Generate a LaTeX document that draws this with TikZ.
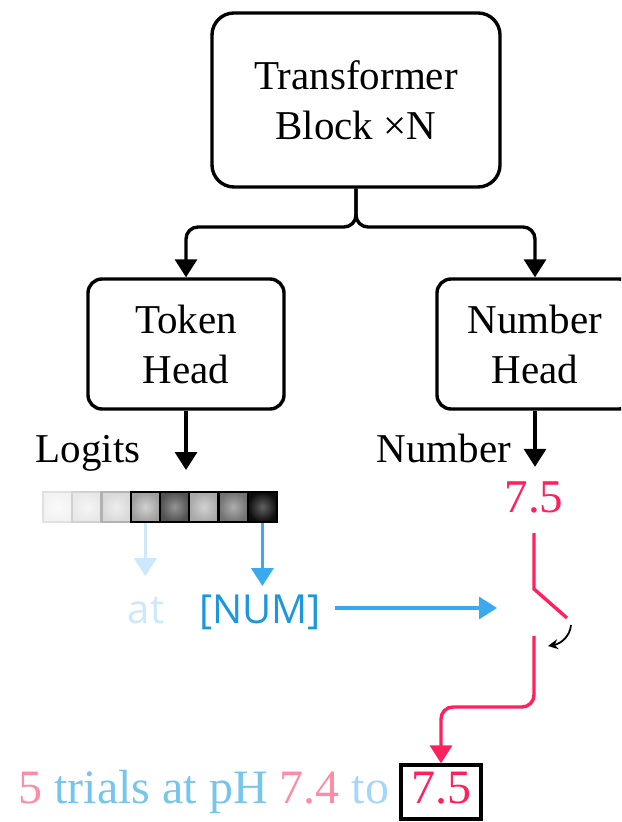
\documentclass[tikz,border=0pt]{standalone}
\usepackage{fontspec}
\setmainfont{Liberation Serif}
\newfontfamily\tokfont{Open Sans}
\usetikzlibrary{arrows.meta,positioning}

\definecolor{numred}{RGB}{255,32,92}
\definecolor{numpink}{RGB}{255,140,165}
\definecolor{txtblue}{RGB}{118,198,236}
\definecolor{toblue}{RGB}{165,214,250}
\definecolor{atblue}{RGB}{205,232,250}
\definecolor{tokblue}{RGB}{28,150,222}
\definecolor{arrblue}{RGB}{58,170,240}

\begin{document}
\begin{tikzpicture}[x=0.5pt,y=-0.5pt,
  box/.style={draw, line width=1.7pt, align=center,
    font=\fontsize{20.5}{25}\selectfont},
  arr/.style={line width=1.7pt, -{Triangle[length=9pt,width=11pt]}},
  lbl/.style={inner sep=0pt, font=\fontsize{20.5}{25}\selectfont},
  cell/.style={minimum width=14.6pt, minimum height=15pt, inner sep=0pt, line width=1.1pt}]

  \clip (0,0) rectangle (621,822);

  % Transformer und Heads
  \node[box, rounded corners=11pt, minimum width=144pt, minimum height=87pt] (tf) at (356,100) {Transformer\\Block ×N};
  \node[box, rounded corners=7pt, minimum width=98pt, minimum height=65pt] (tok) at (186,344) {Token\\Head};
  \node[box, rounded corners=7pt, minimum width=98pt, minimum height=65pt] (num) at (535,344) {Number\\Head};

  % Verzweigung
  \draw[arr, rounded corners=6pt] (tf.south) -- (356,227) -- (186,227) -- (tok.north);
  \draw[arr, rounded corners=6pt] (tf.south) -- (356,227) -- (535,227) -- (num.north);

  % Logits
  \node[lbl, anchor=base] (logits) at (88,462) {Logits};
  \coordinate (lg) at (186,470);
  \draw[arr] (tok.south) -- (lg);

  \foreach \a/\b/\c [count=\i] in {2/5/12, 4/9/18, 7/15/30, 18/38/100, 42/68/100, 18/34/100, 32/55/100, 62/95/100} {
    \node[cell, inner color=black!\a, outer color=black!\b, draw=black!\c] (c\i) at ({43+(\i-0.5)*29.25},507) {};
  }

  % Tokens
  \node[inner sep=0pt, anchor=base, font=\tokfont\fontsize{20}{24}\selectfont, text=atblue] (at) at (146,623) {at};
  \node[inner sep=0pt, anchor=base, font=\tokfont\fontsize{20}{24}\selectfont, text=tokblue] (numtok) at (260,623) {[NUM]};
  \draw[arr, atblue, shorten >=10pt] (c4.south) -- (c4.south |- at.north);
  \draw[arr, arrblue, shorten >=4pt] (c8.south) -- (c8.south |- numtok.north);

  % Number
  \node[lbl, anchor=base] (numlbl) at (444,462) {Number};
  \node[inner sep=0pt, anchor=base, text=numred, font=\fontsize{23.5}{28}\selectfont] (val) at (534,512) {7.5};
  \draw[arr, shorten >=7pt] (num.south) -- (num.south |- val.north);

  % Schalter
  \coordinate (sw) at (497,608);
  \draw[arr, arrblue, shorten <=7pt] (numtok.east |- sw) -- (sw);
  \draw[numred, line width=1.7pt] (534,533) -- (534,589) -- (567,618);
  \draw[line width=0.9pt, -{Stealth[length=5pt,width=5pt]}] (571,625) to[out=-95,in=10] (548,646);

  % Ausgabe
  \node[anchor=base west, inner sep=0pt, font=\fontsize{24}{28}\selectfont] (sent) at (18,803)
    {\textcolor{numpink}{5} \textcolor{txtblue}{trials at pH} \textcolor{numpink}{7.4} \textcolor{toblue}{to}};
  \node[draw, line width=1.7pt, anchor=base, text=numred, font=\fontsize{24}{28}\selectfont,
    text height=18pt, text depth=7pt, inner xsep=5pt, inner ysep=1pt] (out) at (441,803) {7.5};
  \draw[arr, numred, rounded corners=6pt] (534,636) -- (534,707) -- (441,707) -- (out.north);

\end{tikzpicture}
\end{document}
